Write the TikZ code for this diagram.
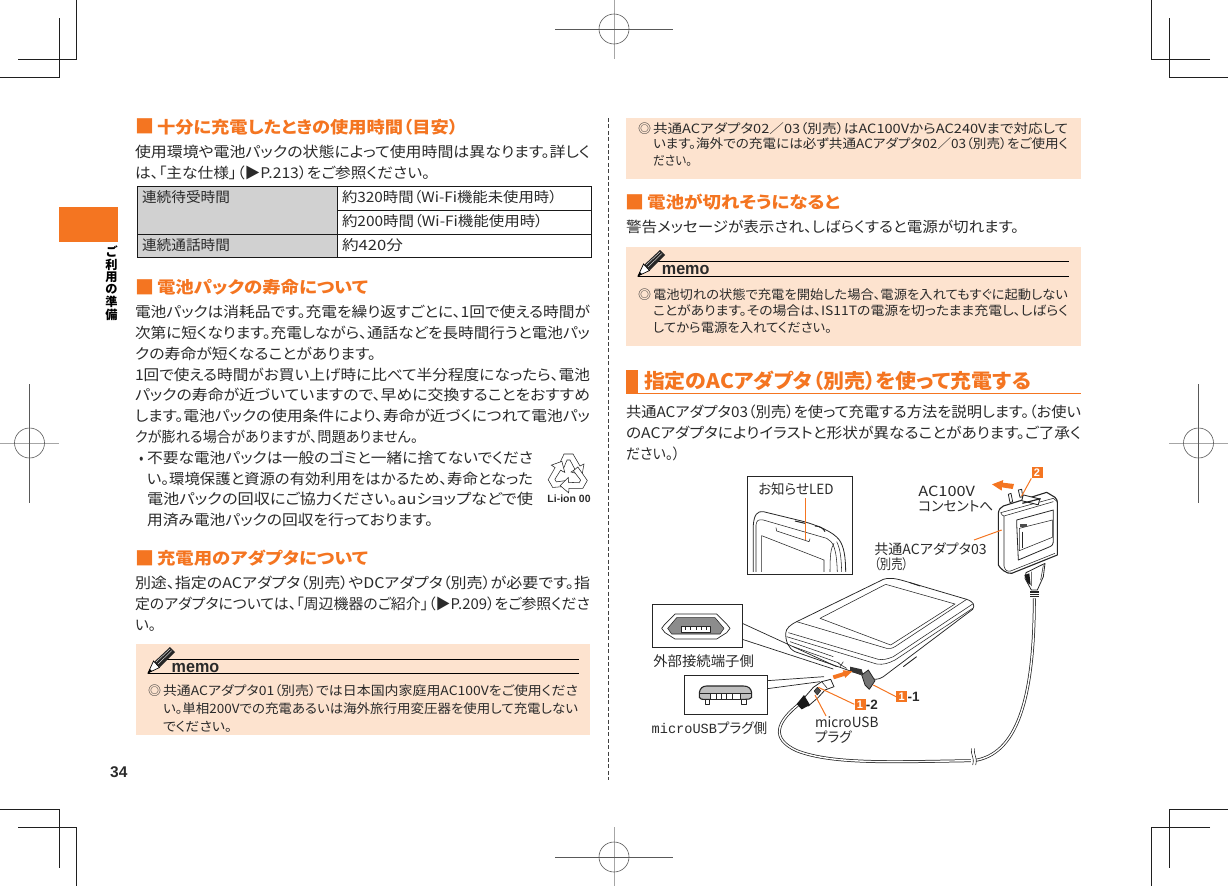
\documentclass[tikz,border=0pt]{standalone}
\usepackage{graphicx}
\usepackage{fontspec}
\setmainfont{Liberation Sans}
\newfontfamily\jp[RawFeature=+palt]{Noto Sans CJK JP}
\newfontfamily\lmono{Liberation Mono}
\definecolor{ora}{HTML}{F47521}
\definecolor{pea}{HTML}{FDE3CF}
\definecolor{txt}{HTML}{2A2A2A}
\definecolor{cellg}{HTML}{D1D1D1}
\newsavebox\mytextbox
\newdimen\mytextwd
\newcounter{tn}
\def\curfont{}
\newcommand\setf[2]{\def\curfont{\fontsize{#1}{#1}\selectfont\jp#2}}
% x, baseline y, end x, text : set one printed line so that it spans x .. end x
\newcommand\tx[4]{%
  \stepcounter{tn}%
  \node[anchor=base west,inner sep=0pt,outer sep=0pt] (t\arabic{tn}) at (#1,#2) {%
    \sbox\mytextbox{\curfont #4}%
    \mytextwd=\wd\mytextbox\relax
    \pgfmathsetmacro\rr{(#3-#1)/\the\mytextwd}%
    \scalebox{\rr}[1]{\usebox\mytextbox}};%
}
% heading square: x of its left edge, y of its bottom edge
\newcommand\hsq[2]{%
  \stepcounter{tn}%
  \node[anchor=base,inner sep=0pt,outer sep=0pt,text=ora,font=\fontsize{19}{19}\selectfont\jp] (t\arabic{tn}) at ({#1+7.5},{#2-1}) {■};%
}
\newcommand\pencil[2]{%
  \begin{scope}[shift={(#1,#2)}]
    \fill[black!85] (12,-6) -- (27,-21) -- (22,-26) -- (6,-11) -- cycle;
    \draw[white,line width=.35pt] (8,-11) -- (22,-24) (10,-9) -- (24,-22.5);
    \draw[black,line width=.7pt,fill=white] (0,0) -- (5.5,-12) -- (11.5,-5.5) -- cycle;
    \fill[black] (0,0) -- (1.8,-4) -- (4,-1.8) -- cycle;
  \end{scope}%
}
\newcommand\recyarrow{%
  (-11,-5) -- (-4,-20) -- (5,-20) -- (12,-8) -- (16,-10) -- (14,1) -- (3,-2) -- (7,-4.5) -- (2,-14) -- (-1,-14) -- (-5.5,-3) -- cycle
}
\tikzset{
  crop/.style={black!88,line width=.8pt},
  reg/.style={black!65,line width=.6pt},
  regg/.style={black!35,line width=.9pt},
  lead/.style={ora,line width=1pt},
  ill/.style={black!85,line width=.55pt,line join=round},
  rule/.style={black,line width=.7pt},
  numbox/.style={fill=ora,text=white,inner sep=0pt,minimum width=11pt,minimum height=11pt,font=\fontsize{11}{11}\selectfont\bfseries},
  inset/.style={black!85,line width=.7pt,fill=white},
  tbl/.style={black!90,line width=.7pt},
  memotag/.style={anchor=base west,inner sep=0pt,font=\fontsize{17}{17}\selectfont\bfseries,text=txt}
}
\begin{document}
\begin{tikzpicture}[x=1pt,y=-1pt]
\useasboundingbox (0,0) rectangle (1228,886);
% crop marks
\foreach \m in {0,1}{
 \begin{scope}[shift={(\m*1228,0)},xscale={1-2*\m}]
  \draw[crop] (0,77) -- (59,77) -- (59,18);
  \draw[crop] (18,59) -- (76.5,59) -- (76.5,0);
  \draw[crop] (0,809) -- (59,809) -- (59,868);
  \draw[crop] (18,827) -- (76.5,827) -- (76.5,886);
 \end{scope}}
% registration marks
\draw[regg] (614,0) -- (614,59);
\draw[reg] (555,29) -- (673,29);
\draw[reg] (614,29) circle (15);
\draw[regg] (614,827) -- (614,886);
\draw[reg] (555,857) -- (673,857);
\draw[reg] (614,857) circle (15);
\draw[regg] (1169,443) -- (1228,443);
\draw[reg] (1198.5,384) -- (1198.5,503);
\draw[reg] (1198.5,443) circle (15);
\draw[regg] (0,443) -- (59,443);
\draw[reg] (29.5,384) -- (29.5,503);
\draw[reg] (29.5,443) circle (15);
% side tab
\fill[ora] (59,207) rectangle (118,242);
\node[align=center,inner sep=0pt,font=\fontsize{12.2}{12.5}\selectfont\jp\bfseries] (tab) at (111.5,283) {ご\\利\\用\\の\\準\\備};
\node[anchor=base west,inner sep=0pt,font=\fontsize{15.5}{16}\selectfont\bfseries,text=txt] (pageno) at (110,777) {34};
% column divider
\draw[black!75,line width=.7pt,dash pattern=on 4pt off 2.4pt] (608,118) -- (608,780);

% ---------- left column
\hsq{137}{134}
\setf{16.5}{\bfseries\color{ora}}
\tx{157}{133}{458}{十分に充電したときの使用時間（目安）}
\setf{14.7}{\color{txt}}
\tx{135}{157.5}{590}{使用環境や電池パックの状態によって使用時間は異なります。詳しく}
\tx{135}{178}{430}{は、「主な仕様」（▶P.213）をご参照ください。}
% table
\fill[cellg] (137,186) rectangle (337,257.5);
\draw[tbl] (137,186) rectangle (591,257.5);
\draw[tbl] (337,186) -- (337,257.5);
\draw[tbl] (337,210) -- (591,210);
\draw[tbl] (137,234) -- (591,234);
\setf{14.2}{\color{txt}}
\tx{142}{202}{230}{連続待受時間}
\tx{342}{202}{557}{約320時間（Wi-Fi機能未使用時）}
\tx{342}{226}{543}{約200時間（Wi-Fi機能使用時）}
\tx{142}{250}{230}{連続通話時間}
\tx{342}{250}{403}{約420分}
\hsq{137}{295}
\setf{16.5}{\bfseries\color{ora}}
\tx{157}{293.5}{368}{電池パックの寿命について}
\setf{14.7}{\color{txt}}
\tx{135}{317.5}{590}{電池パックは消耗品です。充電を繰り返すごとに、1回で使える時間が}
\tx{135}{338.5}{590}{次第に短くなります。充電しながら、通話などを長時間行うと電池パッ}
\tx{135}{359}{376}{クの寿命が短くなることがあります。}
\tx{135}{380}{590}{1回で使える時間がお買い上げ時に比べて半分程度になったら、電池}
\tx{135}{400.5}{590}{パックの寿命が近づいていますので、早めに交換することをおすすめ}
\tx{135}{421.5}{590}{します。電池パックの使用条件により、寿命が近づくにつれて電池パッ}
\tx{135}{442}{418}{クが膨れる場合がありますが、問題ありません。}
\tx{139}{463}{143.5}{•}
\tx{147}{463}{533}{不要な電池パックは一般のゴミと一緒に捨てないでくださ}
\tx{147}{484}{533}{い。環境保護と資源の有効利用をはかるため、寿命となった}
\tx{147}{504.5}{533}{電池パックの回収にご協力ください。auショップなどで使}
\tx{147}{525}{433}{用済み電池パックの回収を行っております。}
% recycling mark
\begin{scope}[shift={(568,474)}]
 \foreach \a in {0,120,240}{
  \draw[black!85,line width=.55pt,fill=white,rotate=\a] \recyarrow;}
\end{scope}
\node[anchor=base,inner sep=0pt,font=\fontsize{10.5}{11}\selectfont\bfseries,text=txt] (liion) at (569,502) {Li-ion 00};
\hsq{137}{566}
\setf{16.5}{\bfseries\color{ora}}
\tx{157}{564.5}{368}{充電用のアダプタについて}
\setf{14.7}{\color{txt}}
\tx{135}{588.5}{590}{別途、指定のACアダプタ（別売）やDCアダプタ（別売）が必要です。指}
\tx{135}{609}{590}{定のアダプタについては、「周辺機器のご紹介」（▶P.209）をご参照くださ}
\tx{135}{630}{156}{い。}
% memo 1
\fill[pea] (136,644) rectangle (590,735);
\draw[rule] (158,659) -- (579,659);
\draw[rule] (148,673) -- (579,673);
\pencil{148}{673}
\node[memotag] (memoa) at (171.5,672) {\scalebox{.95}[1]{memo}};
\setf{12.8}{\color{txt}}
\tx{148}{695}{161}{◎}
\tx{163}{695}{578}{共通ACアダプタ01（別売）では日本国内家庭用AC100Vをご使用くださ}
\tx{163}{713}{578}{い。単相200Vでの充電あるいは海外旅行用変圧器を使用して充電しない}
\tx{163}{731}{232}{でください。}

% ---------- right column
\fill[pea] (626,118) rectangle (1081,179);
\setf{12.8}{\color{txt}}
\tx{638}{133}{651}{◎}
\tx{653}{133}{1068}{共通ACアダプタ02／03（別売）はAC100VからAC240Vまで対応して}
\tx{653}{148.5}{1068}{います。海外での充電には必ず共通ACアダプタ02／03（別売）をご使用く}
\tx{653}{165}{692}{ださい。}
\hsq{627.5}{210}
\setf{16.5}{\bfseries\color{ora}}
\tx{647}{208.5}{840}{電池が切れそうになると}
\setf{14.7}{\color{txt}}
\tx{626}{232.5}{1019}{警告メッセージが表示され、しばらくすると電源が切れます。}
% memo 2
\fill[pea] (626,247) rectangle (1081,346);
\draw[rule] (650,261) -- (1069,261);
\draw[rule] (638,276) -- (1069,276);
\pencil{638}{276}
\node[memotag] (memob) at (661.7,274.5) {\scalebox{.95}[1]{memo}};
\setf{12.8}{\color{txt}}
\tx{638}{299}{651}{◎}
\tx{653}{299}{1068}{電池切れの状態で充電を開始した場合、電源を入れてもすぐに起動しない}
\tx{653}{315.5}{1068}{ことがあります。その場合は、IS11Tの電源を切ったまま充電し、しばらく}
\tx{653}{332}{832}{してから電源を入れてください。}
% section title
\fill[ora] (626,370) rectangle (638,393);
\draw[ora,line width=.8pt] (626,393.5) -- (1081,393.5);
\setf{20}{\bfseries\color{ora}}
\tx{644}{388}{1031}{指定のACアダプタ（別売）を使って充電する}
\setf{14.7}{\color{txt}}
\tx{626}{417.5}{1081}{共通ACアダプタ03（別売）を使って充電する方法を説明します。（お使い}
\tx{626}{438.5}{1081}{のACアダプタによりイラストと形状が異なることがあります。ご了承く}
\tx{626}{459}{680}{ださい。）}

% ---------- illustration (coordinates in 1/3 px from origin 620,460)
\begin{scope}[shift={(620,460)},scale=1/3]
 % LED inset
 \draw[inset] (382,49) rectangle (698,343);
 \begin{scope}
  \clip (384,51) rectangle (696,333);
  \draw[ill,line width=.8pt,fill=white] (400,340) -- (400,195) .. controls (402,165) and (412,152) .. (430,155) -- (545,183) .. controls (590,195) and (640,215) .. (658,240) .. controls (672,260) and (677,290) .. (677,340);
  \draw[ill] (408,340) -- (408,195) .. controls (410,180) and (415,178) .. (430,180) -- (620,235) .. controls (640,245) and (650,265) .. (652,340);
  \draw[ill] (630,340) .. controls (630,285) and (632,265) .. (642,250);
  \draw[ill] (665,340) .. controls (664,290) and (660,265) .. (650,245);
  \draw[ill] (425,340) -- (425,227) -- (612,300) -- (612,340);
  \draw[ill] (468,203) -- (470,213) -- (567,245) -- (570,236);
  \draw[ill,line width=1pt] (525,183) -- (555,190) (585,198) .. controls (600,198) and (610,205) .. (615,215);
 \end{scope}
 % cable
 \coordinate (cabA) at (540,730);
 \coordinate (cabB) at (1060,902);
 \coordinate (cabC) at (1243,415);
 \draw[black!85,line width=.75pt,double=white,double distance=1.4pt] (cabA) .. controls (470,785) and (450,835) .. (530,872) .. controls (640,915) and (830,905) .. (cabB) .. controls (1190,885) and (1243,720) .. (cabC);
 \fill[white] (1052,885) rectangle (1068,918);
 \draw[ill] (1055,865) .. controls (1050,885) and (1065,890) .. (1058,915);
 \draw[ill] (1064,865) .. controls (1059,885) and (1074,890) .. (1067,915);
 % phone
 \draw[ill,line width=.75pt,fill=white] (497,520) .. controls (498,505) and (510,495) .. (530,485) -- (790,358) .. controls (805,352) and (825,355) .. (850,362) -- (1040,418) .. controls (1060,425) and (1066,435) .. (1058,448) -- (790,650) .. controls (775,660) and (762,660) .. (745,652) -- (660,622) -- (525,575) .. controls (505,565) and (497,545) .. (497,520) -- cycle;
 \draw[ill] (505,518) -- (775,598) .. controls (790,600) and (800,598) .. (820,590) -- (1058,432);
 \draw[ill] (500,530) -- (770,612) .. controls (790,615) and (805,610) .. (825,600) -- (1058,445);
 \draw[ill] (530,485) -- (800,565) .. controls (810,567) and (815,565) .. (825,560) -- (1040,418);
 \draw[ill] (600,475) -- (797,373) -- (1005,432) -- (812,555) -- cycle;
 \draw[ill] (520,560) -- (660,610) (510,545) -- (640,590);
 \draw[ill,line width=.9pt] (850,620) -- (890,590);
 \draw[ill,line width=.9pt] (870,368) -- (900,378);
 % port details
 \fill[black!80] (690,620) -- (725,628) -- (730,645) -- (690,635) -- cycle;
 \draw[ill] (655,610) -- (680,625) (660,620) -- (670,605);
 % port cover flap
 \draw[ill,line width=.8pt,fill=black!55] (725,645) -- (745,630) -- (765,662) -- (748,688) -- (735,675) -- cycle;
 % port inset
 \draw[ill,line width=.7pt] (367,490) -- (650,620);
 \draw[ill,line width=.7pt] (367,538) -- (640,627);
 \draw[inset] (96,434) rectangle (367,562);
 \draw[ill,line width=.7pt] (125,505) -- (135,492) -- (165,462) -- (290,462) -- (320,492) -- (330,505) -- (320,518) -- (290,537) -- (165,537) -- (135,518) -- cycle;
 \draw[ill,fill=black!45] (143,505) -- (170,473) -- (285,473) -- (312,505) -- (300,522) -- (155,522) -- cycle;
 \draw[ill,fill=white] (183,500) rectangle (270,516);
 \foreach \q in {196,212,228,244,258}{\draw[ill] (\q,500) -- (\q,510);}
 % plug inset
 \draw[ill,line width=.7pt] (442,662) -- (612,650);
 \draw[ill,line width=.7pt] (442,686) -- (600,665);
 \draw[inset] (193,645) rectangle (442,763);
 \draw[ill,line width=1.1pt,fill=black!25] (238,712) -- (238,698) .. controls (240,685) and (248,678) .. (260,678) -- (370,678) .. controls (385,678) and (393,685) .. (395,698) -- (395,712) .. controls (390,718) and (385,718) .. (375,718) -- (255,718) .. controls (245,718) and (240,718) .. (238,712) -- cycle;
 \fill[white] (272,700) rectangle (360,718);
 \draw[ill] (272,700) rectangle (360,718);
 \foreach \q in {288,304,320,336}{\draw[ill] (\q,700) -- (\q,718);}
 \draw[ill,line width=1pt,fill=white] (255,718) rectangle (268,732);
 \draw[ill,line width=1pt,fill=white] (365,718) rectangle (378,732);
 \draw[ill] (238,700) -- (395,700);
 % plug on cable
 \draw[ill,line width=.8pt,fill=white] (545,722) -- (580,682) -- (605,665) -- (632,658) -- (642,680) -- (615,690) -- (595,712) -- (565,738) -- cycle;
 \fill[black!90] (530,732) -- (552,705) -- (570,735) -- (545,748) -- cycle;
 \draw[ill] (605,665) -- (622,685);
 \draw[ill,fill=black!70] (582,693) -- (592,682) -- (602,692) -- (592,705) -- cycle;
 % insertion arrow
 \fill[ora] (641.8,657.7) -- (673.8,647.7) -- (675.6,653.4) -- (697,634) -- (668.4,630.6) -- (670.2,636.3) -- (638.2,646.3) -- cycle;
 % adapter
 \draw[ill,line width=.8pt,fill=white] (1165,103) -- (1170,128) -- (1178,125) -- (1173,100) -- cycle;
 \draw[ill,line width=.8pt,fill=white] (1195,90) -- (1200,112) -- (1208,110) -- (1205,88) -- cycle;
 \draw[ill,line width=1.1pt,fill=white] (1135,160) .. controls (1136,148) and (1142,142) .. (1150,138) -- (1280,97) -- (1305,112) .. controls (1311,118) and (1312,122) .. (1312,128) -- (1312,285) -- (1175,340) .. controls (1160,343) and (1140,325) .. (1135,315) -- cycle;
 \draw[ill] (1142,158) -- (1300,115) -- (1312,125);
 \draw[ill] (1152,168) -- (1152,318) .. controls (1155,330) and (1160,335) .. (1172,333) -- (1305,280);
 \draw[ill] (1142,158) .. controls (1145,165) and (1148,167) .. (1152,168) -- (1300,125);
 \draw[ill,line width=.8pt] (1190,180) -- (1300,150) -- (1300,240) .. controls (1300,255) and (1296,258) .. (1285,262) -- (1195,300) -- (1190,190) -- cycle;
 \draw[ill] (1198,205) -- (1297,180) -- (1297,232) -- (1198,272) -- cycle;
 \draw[ill] (1208,215) -- (1208,265);
 \fill[black!70] (1200,192) rectangle (1222,200);
 \draw[ill,line width=.9pt,fill=white,rotate around={-14:(1230,118)}] (1207,110) rectangle (1258,128);
 \draw[ill,line width=1.2pt] (1207,130) -- (1262,116);
 % adapter neck
 \draw[ill,line width=.8pt,fill=white] (1218,338) -- (1275,310) -- (1270,350) -- (1252,390) -- (1234,390) -- (1215,355) -- cycle;
 \fill[black!90] (1213,345) -- (1228,340) -- (1232,375) -- (1222,368) -- cycle;
 \draw[ill] (1235,335) -- (1235,378) (1270,316) -- (1262,360);
 \fill[black!85] (1230,392) rectangle (1256,412);
 \draw[white,line width=.3pt] (1230,398) -- (1256,398) (1230,405) -- (1256,405);
 % plug-out arrow
 \fill[ora] (1116,73) -- (1150,60) -- (1148,68) -- (1182,72) -- (1178,87) -- (1146,82) -- (1145,92) -- cycle;
 % leader anchors
 \coordinate (ledtip) at (557,240);
 \coordinate (ledtop) at (557,115);
 \coordinate (adtip) at (1145,210);
 \coordinate (adlbl) at (1062,240);
 \coordinate (prong) at (1205,108);
 \coordinate (flap) at (760,675);
 \coordinate (plugtip) at (595,682);
 \coordinate (usbtip) at (585,705);
 \coordinate (usblbl) at (618,768);
 \draw[lead] (ledtop) -- (ledtip);
 \draw[lead] (adlbl) -- (adtip);
 \draw[lead] (usblbl) -- (usbtip);
\end{scope}
% labels of the illustration
\setf{14}{\color{txt}}
\tx{758.3}{494}{833.5}{お知らせLED}
\tx{918.3}{496}{975}{AC100V}
\tx{918.3}{511}{993.3}{コンセントへ}
\tx{874.3}{554}{986.7}{共通ACアダプタ03}
\tx{874.3}{569}{908.3}{（別売）}
\tx{653.3}{666}{754}{外部接続端子側}
\tx{651.7}{733}{767.3}{{\lmono microUSB}プラグ側}
\tx{815}{727}{878.5}{microUSB}
\tx{815}{742}{851.7}{プラグ}
\node[numbox] (n2) at (1037,472.7) {2};
\node[numbox] (n1a) at (901.7,696.7) {1};
\node[numbox] (n1b) at (860,704.3) {1};
\node[anchor=west,inner sep=0pt,font=\fontsize{13.5}{14}\selectfont\bfseries,text=txt] (lab1a) at (n1a.east) {-1};
\node[anchor=west,inner sep=0pt,font=\fontsize{13.5}{14}\selectfont\bfseries,text=txt] (lab1b) at (n1b.east) {-2};
\draw[lead] (n2.south west) -- (prong);
\draw[lead] (n1a.west) -- (flap);
\draw[lead] (n1b.west) -- (plugtip);
\end{tikzpicture}
\end{document}
